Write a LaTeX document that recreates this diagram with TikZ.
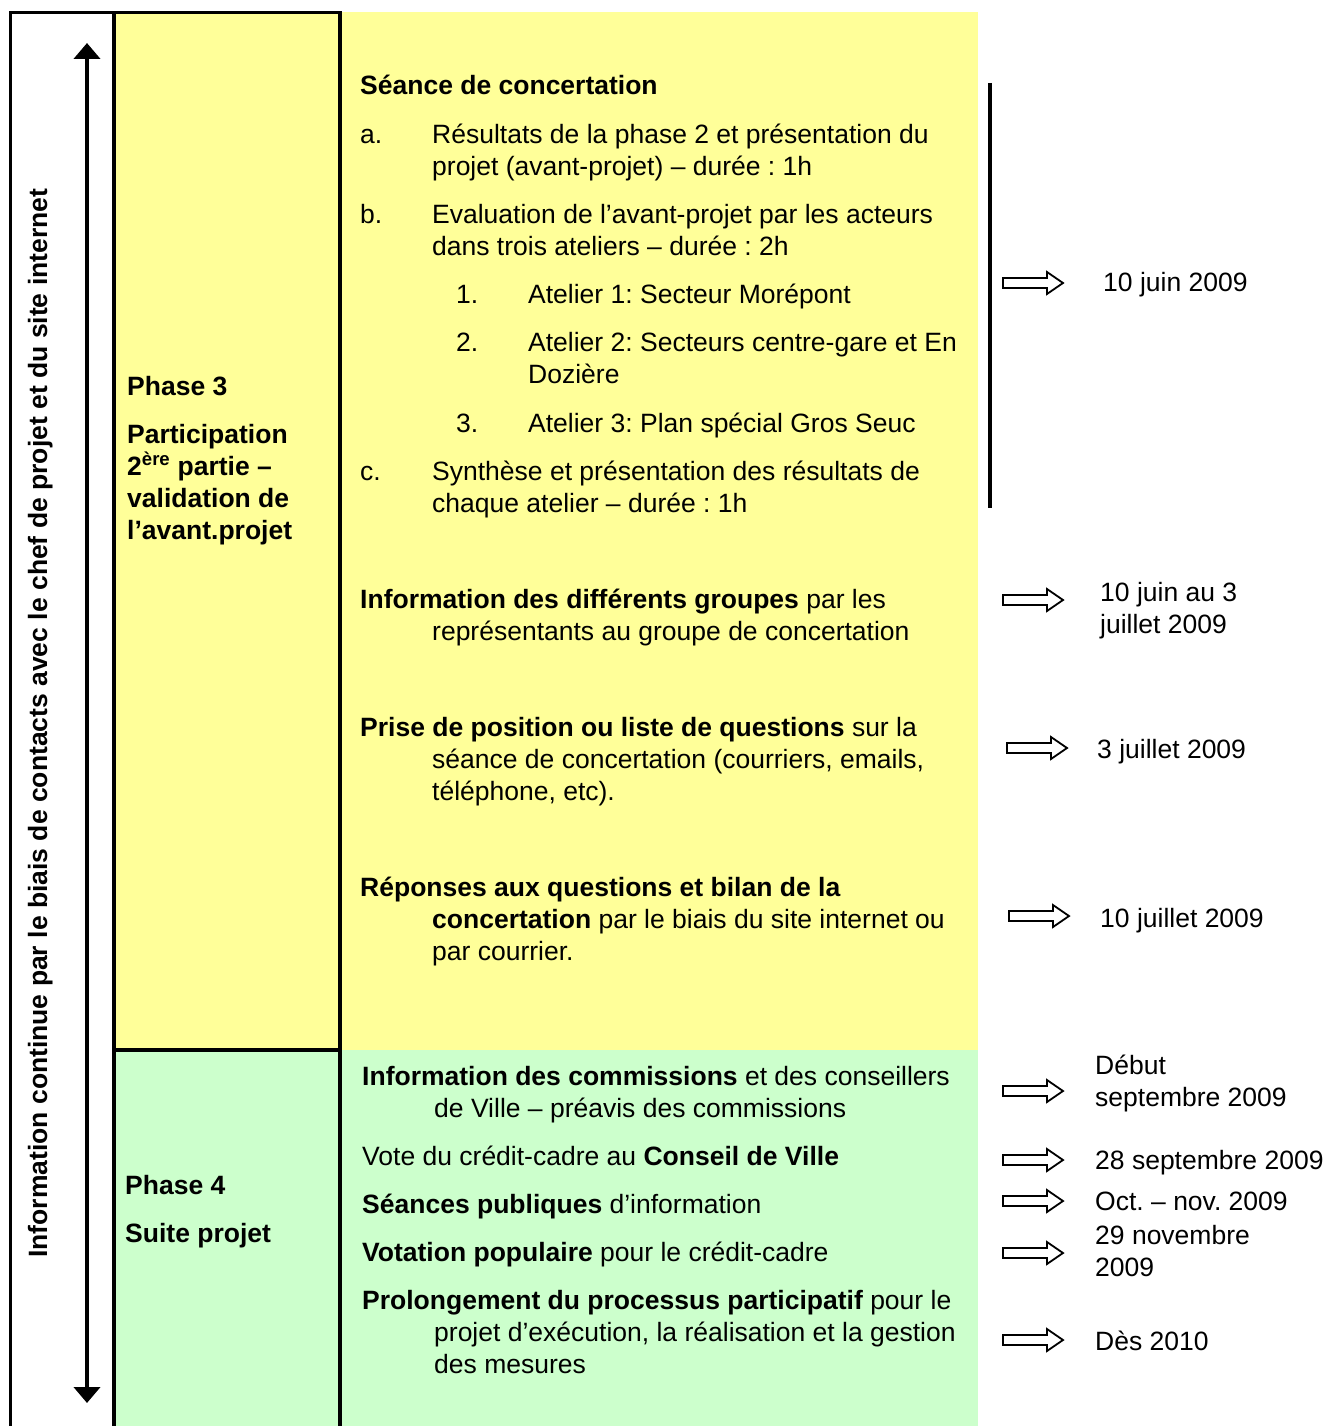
\documentclass[tikz,border=0pt]{standalone}
\usepackage{fontspec}
\setmainfont{Liberation Sans}
\usetikzlibrary{arrows.meta}
\definecolor{phaseyellow}{HTML}{FFFF99}
\definecolor{phasegreen}{HTML}{CCFFCC}
\frenchspacing
\newcommand{\hollowarrow}[1]{\draw [line width=1.8pt,fill=white,line join=miter] (#1) ++(0,-5) -- ++(44,0) -- ++(0,-6) -- ++(16,11) -- ++(-16,11) -- ++(0,-6) -- ++(-44,0) -- cycle;}

\begin{document}
\begin{tikzpicture}[x=1pt,y=-1pt,font=\fontsize{26.5}{32}\selectfont,
  txt/.style={inner sep=0pt,anchor=base west}]

\useasboundingbox (0,0) rectangle (1324,1426);

\fill [phaseyellow] (114,12) rectangle (978,1050);
\fill [phasegreen] (114,1050) rectangle (978,1426);
\draw [line width=3.5pt] (10.5,1432) -- (10.5,12.5) -- (340,12.5) -- (340,1432);
\draw [line width=3.5pt] (114,12.5) -- (114,1432);
\draw [line width=3.5pt] (114,1050) -- (340,1050);

\coordinate (topTip) at (87,43);
\coordinate (botTip) at (87,1403);
\draw [line width=4.5pt,{Triangle[width=26pt,length=16pt]}-{Triangle[width=26pt,length=16pt]}] (topTip) -- (botTip);
\node [txt,rotate=90] (info) at (47,1258) {\bfseries Information continue par le biais de contacts avec le chef de projet et du site internet};

\node [txt] (ph3) at (127,395) {\bfseries Phase 3};
\node [txt] (ph3a) at (127,443) {\bfseries Participation};
\node [txt] (ph3b) at (127,475) {\bfseries 2\textsuperscript{ère} partie –};
\node [txt] (ph3c) at (127,507) {\bfseries validation de};
\node [txt] (ph3d) at (127,539) {\bfseries l’avant.projet};
\node [txt] (ph4) at (125,1194) {\bfseries Phase 4};
\node [txt] (ph4a) at (125,1242) {\bfseries Suite projet};

\node [txt] (seance) at (360,95) {\bfseries Séance de concertation};
\node [txt] (la) at (360,143) {a.};
\node [txt] (ta1) at (432,143) {Résultats de la phase 2 et présentation du};
\node [txt] (ta2) at (432,175) {projet (avant-projet) – durée : 1h};
\node [txt] (lb) at (360,223) {b.};
\node [txt] (tb1) at (432,223) {Evaluation de l’avant-projet par les acteurs};
\node [txt] (tb2) at (432,255) {dans trois ateliers – durée : 2h};
\node [txt] (l1) at (456,303) {1.};
\node [txt] (t1) at (528,303) {Atelier 1: Secteur Morépont};
\node [txt] (l2) at (456,351) {2.};
\node [txt] (t2a) at (528,351) {Atelier 2: Secteurs centre-gare et En};
\node [txt] (t2b) at (528,383) {Dozière};
\node [txt] (l3) at (456,432) {3.};
\node [txt] (t3) at (528,432) {Atelier 3: Plan spécial Gros Seuc};
\node [txt] (lc) at (360,480) {c.};
\node [txt] (tc1) at (432,480) {Synthèse et présentation des résultats de};
\node [txt] (tc2) at (432,512) {chaque atelier – durée : 1h};
\draw [line width=3.5pt] (990,83) -- (990,508);

\node [txt] (grp1) at (360,608) {\textbf{Information des différents groupes} par les};
\node [txt] (grp2) at (432,640) {représentants au groupe de concertation};
\node [txt] (pos1) at (360,736) {\textbf{Prise de position ou liste de questions} sur la};
\node [txt] (pos2) at (432,768) {séance de concertation (courriers, emails,};
\node [txt] (pos3) at (432,800) {téléphone, etc).};
\node [txt] (rep1) at (360,896) {\bfseries Réponses aux questions et bilan de la};
\node [txt] (rep2) at (432,928) {\textbf{concertation} par le biais du site internet ou};
\node [txt] (rep3) at (432,960) {par courrier.};

\node [txt] (com1) at (362,1085) {\textbf{Information des commissions} et des conseillers};
\node [txt] (com2) at (434,1117) {de Ville – préavis des commissions};
\node [txt] (vote) at (362,1165) {Vote du crédit-cadre au \textbf{Conseil de Ville}};
\node [txt] (seances) at (362,1213) {\textbf{Séances publiques} d’information};
\node [txt] (votation) at (362,1261) {\textbf{Votation populaire} pour le crédit-cadre};
\node [txt] (prol1) at (362,1309) {\textbf{Prolongement du processus participatif} pour le};
\node [txt] (prol2) at (434,1341) {projet d’exécution, la réalisation et la gestion};
\node [txt] (prol3) at (434,1373) {des mesures};

\coordinate (arr1) at (1003,283);
\coordinate (arr2) at (1003,600);
\coordinate (arr3) at (1007,748);
\coordinate (arr4) at (1009,916);
\coordinate (arr5) at (1003,1091);
\coordinate (arr6) at (1003,1160);
\coordinate (arr7) at (1003,1201);
\coordinate (arr8) at (1003,1253);
\coordinate (arr9) at (1003,1340);
\foreach \a in {arr1,arr2,arr3,arr4,arr5,arr6,arr7,arr8,arr9} {\hollowarrow{\a}}

\node [txt] (d1) at (1103,291) {10 juin 2009};
\node [txt] (d2a) at (1100,601) {10 juin au 3};
\node [txt] (d2b) at (1100,633) {juillet 2009};
\node [txt] (d3) at (1097,758) {3 juillet 2009};
\node [txt] (d4) at (1100,927) {10 juillet 2009};
\node [txt] (d5a) at (1095,1074) {Début};
\node [txt] (d5b) at (1095,1106) {septembre 2009};
\node [txt] (d6) at (1095,1169) {28 septembre 2009};
\node [txt] (d7) at (1095,1210) {Oct. – nov. 2009};
\node [txt] (d8a) at (1095,1244) {29 novembre};
\node [txt] (d8b) at (1095,1276) {2009};
\node [txt] (d9) at (1095,1350) {Dès 2010};

\end{tikzpicture}
\end{document}
